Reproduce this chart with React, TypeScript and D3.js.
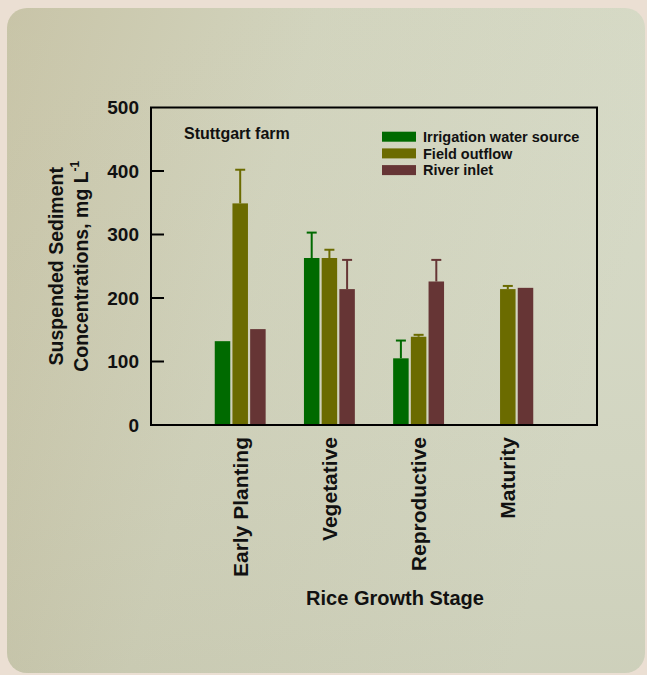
import React from "react";
import * as d3 from "d3";

const stages = ["Early Planting", "Vegetative", "Reproductive", "Maturity"];
const seriesNames = ["Irrigation water source", "Field outflow", "River inlet"];
const seriesColors = ["#006a00", "#6b6b00", "#663535"];
const irrigation: (number | null)[] = [132, 263, 105, null];
const irrigationErr = [0, 40, 28, 0];
const outflow: (number | null)[] = [349, 263, 139, 214];
const outflowErr = [53, 13, 3, 5];
const river: (number | null)[] = [151, 214, 226, 216];
const riverErr = [0, 46, 34, 0];
const yTicks = [0, 100, 200, 300, 400, 500];

const seriesValues = [irrigation, outflow, river];
const seriesErrs = [irrigationErr, outflowErr, riverErr];

const W = 647, H = 675;
const L = 151, R = 597, T = 107.5, B = 425;
const font = "Liberation Sans, Arial, sans-serif";

export default function App() {
  const x = d3.scaleLinear().domain([0, stages.length + 1]).range([L, R]);
  const y = d3.scaleLinear().domain([0, 500]).range([B, T]);
  const barW = 15.5;
  const pitch = 17.7;

  return (
    <svg width={W} height={H} style={{ position: "absolute", left: 0, top: 0 }} fontFamily={font}>
      <defs>
        <linearGradient id="panel" x1="0" y1="0" x2="1" y2="0.3">
          <stop offset="0" stopColor="#c6c2a4" />
          <stop offset="0.45" stopColor="#d0d2bb" />
          <stop offset="1" stopColor="#d5d9c5" />
        </linearGradient>
        <linearGradient id="panelV" x1="0" y1="0" x2="0" y2="1">
          <stop offset="0" stopColor="#ffffff" stopOpacity="0.04" />
          <stop offset="1" stopColor="#8a8060" stopOpacity="0.1" />
        </linearGradient>
      </defs>
      <rect x={0} y={0} width={W} height={H} fill="#ebdfd3" />
      <rect x={7} y={8} width={638} height={665} rx={20} fill="url(#panel)" />
      <rect x={7} y={8} width={638} height={665} rx={20} fill="url(#panelV)" />

      {/* bars */}
      {seriesValues.map((vals, si) =>
        vals.map((v, i) => {
          if (v == null) return null;
          const cx = x(i + 1) + (si - 1) * pitch;
          const e = seriesErrs[si][i];
          return (
            <g key={`${si}-${i}`}>
              <rect x={cx - barW / 2} y={y(v)} width={barW} height={y(0) - y(v)} fill={seriesColors[si]} />
              {e > 0 && (
                <g stroke={seriesColors[si]} strokeWidth={2}>
                  <line x1={cx} x2={cx} y1={y(v)} y2={y(v + e)} />
                  <line x1={cx - 5} x2={cx + 5} y1={y(v + e)} y2={y(v + e)} />
                </g>
              )}
            </g>
          );
        })
      )}

      {/* frame */}
      <rect x={L} y={T} width={R - L} height={B - T} fill="none" stroke="#000" strokeWidth={2} />
      {yTicks.map((t) => (
        <g key={t}>
          {t > 0 && t < 500 && <line x1={L} x2={L + 13} y1={y(t)} y2={y(t)} stroke="#000" strokeWidth={2} />}
          <text x={139} y={y(t)} dy="0.36em" textAnchor="end" fontSize={19} fontWeight="bold" fill="#111">
            {t}
          </text>
        </g>
      ))}

      {/* x labels */}
      {stages.map((s, i) => (
        <text
          key={s}
          transform={`translate(${x(i + 1) + 7.5},${437}) rotate(-90)`}
          textAnchor="end"
          fontSize={21}
          fontWeight="bold"
          fill="#111"
        >
          {s}
        </text>
      ))}
      <text x={395} y={605} textAnchor="middle" fontSize={20} fontWeight="bold" fill="#111">
        Rice Growth Stage
      </text>

      {/* y title */}
      <g transform={`translate(63,${(T + B) / 2}) rotate(-90)`}>
        <text x={0} y={0} textAnchor="middle" fontSize={19.5} fontWeight="bold" fill="#111">
          Suspended Sediment
        </text>
        <text x={0} y={25} textAnchor="middle" fontSize={19.5} fontWeight="bold" fill="#111">
          Concentrations, mg L
          <tspan fontSize={12} dy={-9}>-1</tspan>
        </text>
      </g>

      <text x={184} y={139} fontSize={16} fontWeight="bold" fill="#111">
        Stuttgart farm
      </text>

      {/* legend */}
      {seriesNames.map((n, i) => (
        <g key={n} transform={`translate(382,${136.7 + i * 16.7})`}>
          <rect x={0} y={-5} width={34} height={10} fill={seriesColors[i]} />
          <text x={41} y={0} dy="0.36em" fontSize={14.5} fontWeight="bold" fill="#111">
            {n}
          </text>
        </g>
      ))}
    </svg>
  );
}
